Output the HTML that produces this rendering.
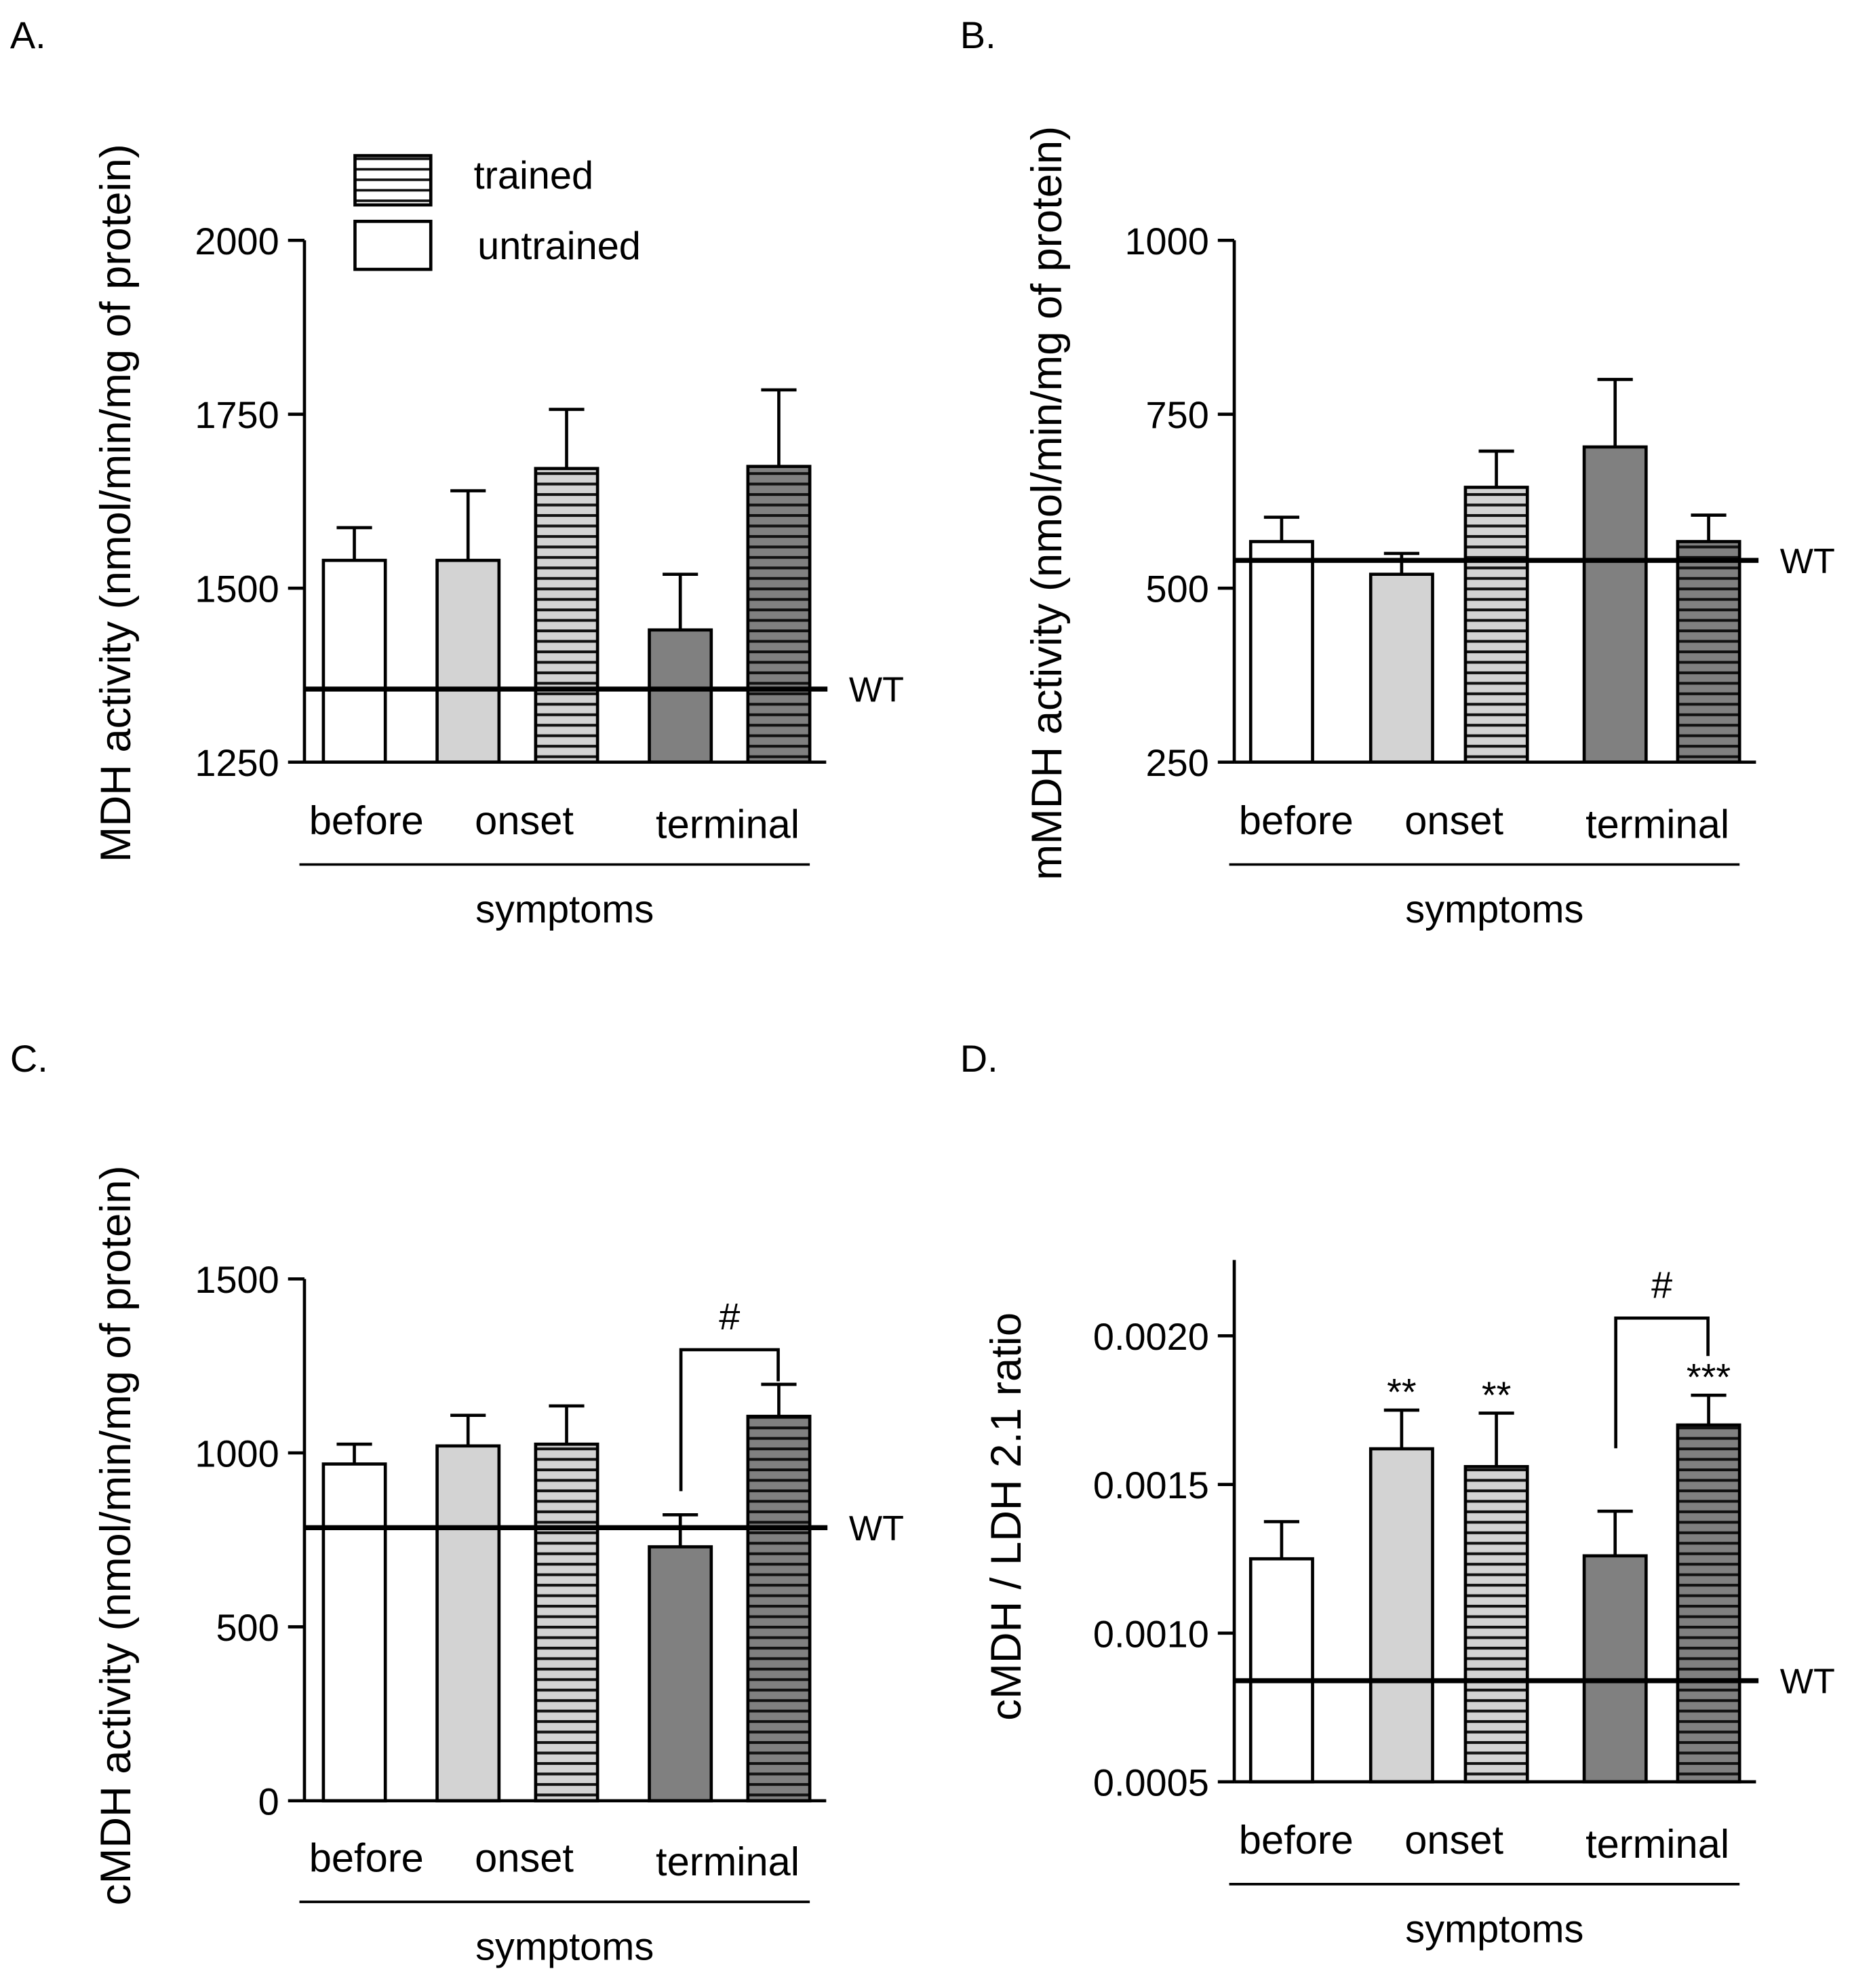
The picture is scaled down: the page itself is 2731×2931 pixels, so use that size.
<!DOCTYPE html>
<html><head><meta charset="utf-8"><style>
html,body{margin:0;padding:0;background:#fff}
svg{display:block}
text{font-family:"Liberation Sans",Arial,sans-serif;fill:#000}
</style></head><body>
<svg id="fig" xmlns="http://www.w3.org/2000/svg" width="2731" height="2931" viewBox="0 0 1466 1573">
<defs>
<pattern id="hLight" patternUnits="userSpaceOnUse" width="8" height="8.3"><rect width="8" height="8.3" fill="#d3d3d3"/><rect y="0" width="8" height="2.2" fill="#111"/></pattern>
<pattern id="hDark" patternUnits="userSpaceOnUse" width="8" height="8.3"><rect width="8" height="8.3" fill="#808080"/><rect y="0" width="8" height="2.2" fill="#111"/></pattern>
<pattern id="hWhite" patternUnits="userSpaceOnUse" width="8" height="8.3"><rect width="8" height="8.3" fill="#fff"/><rect y="0" width="8" height="2" fill="#111"/></pattern>
</defs>
<g id="root"></g>
</svg>
<script>
const categories = ["before","onset","terminal"];
const barGroups = ["before-untrained","onset-untrained","onset-trained","terminal-untrained","terminal-trained"];
const valuesA = [1540,1540,1672,1440,1675];
const errorsA = [1587,1640,1757,1520,1785];
const wtA = 1355;
const ticksA = ["1250","1500","1750","2000"];
const valuesB = [567,520,645,703,567];
const errorsB = [602,550,697,800,605];
const wtB = 540;
const ticksB = ["250","500","750","1000"];
const valuesC = [968,1020,1025,730,1105];
const errorsC = [1025,1108,1135,822,1197];
const wtC = 785;
const ticksC = ["0","500","1000","1500"];
const valuesD = [0.00125,0.00162,0.00156,0.00126,0.00170];
const errorsD = [0.001375,0.00175,0.00174,0.00141,0.00180];
const wtD = 0.00084;
const ticksD = ["0.0005","0.0010","0.0015","0.0020"];
const starsD = ["","**","**","","***"];

const NS="http://www.w3.org/2000/svg";
const root=document.getElementById('root');
function el(tag,attrs,parent,txt){const e=document.createElementNS(NS,tag);for(const k in attrs)e.setAttribute(k,attrs[k]);if(txt!==undefined)e.textContent=txt;(parent||root).appendChild(e);return e;}
const fills=["#fff","#d3d3d3","url(#hLight)","#808080","url(#hDark)"];

function panel(o){
  const g=el('g',{});
  
  
  const y=v=>o.y0-(v-o.vmin)/(o.vmax-o.vmin)*(o.y0-o.y1);
  const t=el('text',{x:o.lx,y:o.ly,'font-size':30},g,o.id.toUpperCase()+".");
  
  const ax=el('line',{x1:o.ax,y1:o.axTop,x2:o.ax,y2:o.y0,stroke:'#000','stroke-width':2.5},g);
  
  o.ticks.forEach(tk=>{const v=parseFloat(tk);const yy=y(v);
    el('line',{x1:o.ax-13,y1:yy,x2:o.ax,y2:yy,stroke:'#000','stroke-width':2.5},g);
    const tl=el('text',{x:o.ax-20,y:yy+11,'font-size':30,'text-anchor':'end'},g,tk);
    });
  const yt=el('text',{x:0,y:0,'font-size':34,'text-anchor':'middle',transform:`translate(${o.tx},${o.ty}) rotate(-90)`},g,o.title);
  
  o.vals.forEach((v,i)=>{const x=o.bx[i],w=49;const top=y(v);
    const b=el('rect',{x:x,y:top,width:w,height:o.y0-top,fill:fills[i],stroke:'#000','stroke-width':2.5},g);
    
    const ey=y(o.errs[i]);const cx=x+w/2;
    el('line',{x1:cx,y1:top,x2:cx,y2:ey,stroke:'#000','stroke-width':2.5},g);
    el('line',{x1:cx-14,y1:ey,x2:cx+14,y2:ey,stroke:'#000','stroke-width':2.5},g);
    if(o.stars&&o.stars[i]){const s=el('text',{x:cx,y:ey-4,'font-size':30,'text-anchor':'middle'},g,o.stars[i]);
      }
  });
  el('line',{x1:o.ax,y1:o.y0,x2:o.bx[4]+62,y2:o.y0,stroke:'#000','stroke-width':2.5},g);
  const wy=y(o.wt);
  const wl=el('line',{x1:o.ax,y1:wy,x2:o.wx2,y2:wy,stroke:'#000','stroke-width':4},g);
  
  const wt=el('text',{x:o.wx2+17,y:wy+10,'font-size':28},g,'WT');
  
  const cxs=[o.ax+49,o.ax+174,o.ax+335];
  categories.forEach((c,i)=>{const ct=el('text',{x:cxs[i],y:o.cy+(i==2?3:0),'font-size':32,'text-anchor':'middle'},g,c);
    });
  el('line',{x1:o.ax-4,y1:o.cy+24,x2:o.bx[4]+49,y2:o.cy+24,stroke:'#000','stroke-width':2},g);
  const sx=el('text',{x:o.ax+206,y:o.cy+70,'font-size':31,'text-anchor':'middle'},g,'symptoms');
  
  if(o.bracket){const a=o.bx[3]+25,b=o.bx[4]+24;const bt=o.bracket;
    const p=el('polyline',{points:`${a},${bt[0]} ${a},${bt[2]} ${b},${bt[2]} ${b},${bt[1]}`,fill:'none',stroke:'#000','stroke-width':2.5},g);
    
    const h=el('text',{x:(a+b)/2,y:bt[2]-16,'font-size':30,'text-anchor':'middle'},g,'#');
    }
}
const bxL=[256,346,424,514,592], bxR=[990,1085,1160,1254,1328];
panel({id:'a',lx:8,ly:38,ax:241,axTop:190,y0:603,y1:190,vmin:1250,vmax:2000,ticks:ticksA,vals:valuesA,errs:errorsA,wt:wtA,wx2:655,bx:bxL,cy:660,title:'MDH activity (nmol/min/mg of protein)',tx:103,ty:398});
panel({id:'b',lx:760,ly:38,ax:977,axTop:190,y0:603,y1:190,vmin:250,vmax:1000,ticks:ticksB,vals:valuesB,errs:errorsB,wt:wtB,wx2:1392,bx:bxR,cy:660,title:'mMDH activity (nmol/min/mg of protein)',tx:840,ty:398});
panel({id:'c',lx:8,ly:848,ax:241,axTop:1012,y0:1425,y1:1012,vmin:0,vmax:1500,ticks:ticksC,vals:valuesC,errs:errorsC,wt:wtC,wx2:655,bx:bxL,cy:1481,title:'cMDH activity (nmol/min/mg of protein)',tx:103,ty:1215,bracket:[1180,1093,1068]});
panel({id:'d',lx:760,ly:848,ax:977,axTop:997,y0:1410,y1:1057,vmin:0.0005,vmax:0.0020,ticks:ticksD,vals:valuesD,errs:errorsD,wt:wtD,wx2:1392,bx:bxR,cy:1467,title:'cMDH / LDH 2.1 ratio',tx:808,ty:1200,bracket:[1146,1073,1043],stars:starsD});
const lg=el('g',{});


const l1=el('rect',{x:281,y:123,width:60,height:39,fill:'url(#hWhite)',stroke:'#000','stroke-width':2.5},lg);

const t1=el('text',{x:375,y:149,'font-size':31},lg,'trained');

const l2=el('rect',{x:281,y:175,width:60,height:38,fill:'#fff',stroke:'#000','stroke-width':2.5},lg);

const t2=el('text',{x:378,y:205,'font-size':31},lg,'untrained');

</script>
</body></html>
